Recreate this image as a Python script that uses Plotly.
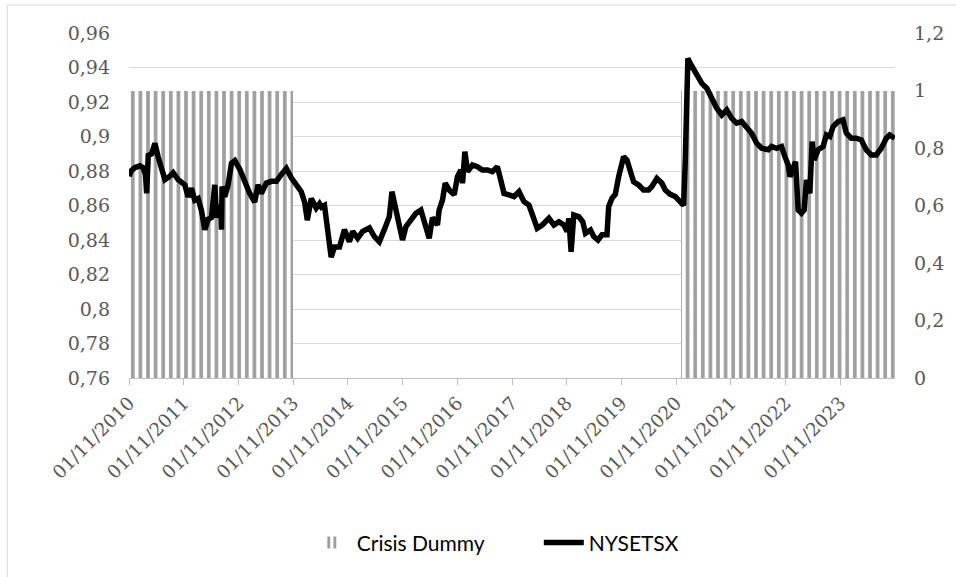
import pandas as pd
import plotly.graph_objects as go

# ---------------- data ----------------
# NYSETSX series: time as decimal year, value (left axis)
t_year = [
    2010.833, 2010.870, 2010.943, 2011.034, 2011.089, 2011.134, 2011.156, 2011.185, 2011.247, 2011.307,
    2011.367, 2011.429, 2011.490, 2011.581, 2011.641, 2011.732, 2011.854, 2011.914, 2011.976, 2012.036,
    2012.097, 2012.158, 2012.219, 2012.279, 2012.341, 2012.401, 2012.432, 2012.461, 2012.510, 2012.523,
    2012.534, 2012.583, 2012.644, 2012.705, 2012.766, 2012.857, 2012.948, 2013.039, 2013.130, 2013.190,
    2013.252, 2013.343, 2013.435, 2013.526, 2013.617, 2013.708, 2013.799, 2013.890, 2013.981, 2014.042,
    2014.091, 2014.164, 2014.255, 2014.315, 2014.352, 2014.406, 2014.467, 2014.528, 2014.589, 2014.680,
    2014.771, 2014.862, 2014.922, 2015.013, 2015.104, 2015.227, 2015.318, 2015.409, 2015.500, 2015.591,
    2015.640, 2015.713, 2015.773, 2015.833, 2015.895, 2015.987, 2016.078, 2016.169, 2016.229, 2016.320,
    2016.380, 2016.471, 2016.502, 2016.563, 2016.612, 2016.685, 2016.776, 2016.836, 2016.898, 2016.928,
    2016.971, 2017.019, 2017.110, 2017.201, 2017.292, 2017.383, 2017.474, 2017.565, 2017.627, 2017.687,
    2017.778, 2017.870, 2017.961, 2018.052, 2018.143, 2018.203, 2018.294, 2018.386, 2018.508, 2018.599,
    2018.690, 2018.781, 2018.841, 2018.872, 2018.914, 2018.963, 2019.054, 2019.127, 2019.177, 2019.268,
    2019.328, 2019.406, 2019.479, 2019.570, 2019.601, 2019.662, 2019.723, 2019.784, 2019.875, 2019.935,
    2019.997, 2020.057, 2020.148, 2020.239, 2020.330, 2020.391, 2020.482, 2020.573, 2020.635, 2020.726,
    2020.817, 2020.908, 2020.969, 2021.000, 2021.047, 2021.091, 2021.211, 2021.302, 2021.393, 2021.485,
    2021.576, 2021.667, 2021.758, 2021.849, 2021.940, 2022.031, 2022.122, 2022.213, 2022.305, 2022.396,
    2022.518, 2022.578, 2022.669, 2022.760, 2022.822, 2022.882, 2022.913, 2022.974, 2023.016, 2023.065,
    2023.125, 2023.174, 2023.216, 2023.278, 2023.320, 2023.357, 2023.430, 2023.521, 2023.581, 2023.643,
    2023.703, 2023.794, 2023.885, 2023.945, 2024.036, 2024.128, 2024.219, 2024.310, 2024.401, 2024.492,
    2024.583, 2024.674, 2024.736, 2024.828,
]
nysetsx = [
    0.877, 0.880, 0.882, 0.883, 0.882, 0.878, 0.867, 0.889, 0.890, 0.896,
    0.888, 0.881, 0.875, 0.877, 0.879, 0.875, 0.872, 0.865, 0.870, 0.863,
    0.864, 0.857, 0.846, 0.852, 0.853, 0.872, 0.853, 0.857, 0.860, 0.846,
    0.871, 0.865, 0.872, 0.8845, 0.886, 0.881, 0.873, 0.867, 0.862, 0.872,
    0.867, 0.873, 0.874, 0.874, 0.878, 0.8815, 0.876, 0.872, 0.868, 0.862,
    0.8515, 0.864, 0.8585, 0.861, 0.859, 0.860, 0.847, 0.830, 0.836, 0.836,
    0.846, 0.839, 0.845, 0.841, 0.845, 0.847, 0.842, 0.839, 0.846, 0.8535,
    0.868, 0.857, 0.846, 0.840, 0.8477, 0.8516, 0.8555, 0.8574, 0.8516, 0.841,
    0.853, 0.8488, 0.8574, 0.8632, 0.8729, 0.869, 0.8662, 0.8767, 0.8806, 0.8729,
    0.8912, 0.8796, 0.8835, 0.8825, 0.8806, 0.8806, 0.8796, 0.8825, 0.8748, 0.867,
    0.8662, 0.8652, 0.868, 0.8622, 0.8603, 0.8545, 0.8468, 0.8487, 0.8526, 0.8487,
    0.8506, 0.8487, 0.845, 0.8526, 0.8332, 0.8545, 0.8535, 0.8506, 0.8439, 0.8458,
    0.842, 0.840, 0.843, 0.843, 0.8593, 0.8642, 0.8665, 0.8767, 0.8883, 0.8864,
    0.8806, 0.8738, 0.8719, 0.869, 0.869, 0.871, 0.8757, 0.8729, 0.869, 0.8665,
    0.8652, 0.8622, 0.860, 0.8864, 0.9453, 0.9424, 0.9357, 0.9308, 0.928, 0.922,
    0.9164, 0.9125, 0.9154, 0.9105, 0.9077, 0.9087, 0.9057, 0.9019, 0.8961, 0.8932,
    0.8923, 0.8942, 0.8932, 0.8942, 0.8883, 0.8835, 0.8767, 0.8825, 0.8854, 0.8574,
    0.8555, 0.8574, 0.8748, 0.867, 0.897, 0.8864, 0.8923, 0.8942, 0.9009, 0.900,
    0.9057, 0.9086, 0.9096, 0.902, 0.899, 0.899, 0.898, 0.8922, 0.8893, 0.8893,
    0.8932, 0.899, 0.9009, 0.899,
]

# Crisis dummy: monthly, Nov 2010 .. Oct 2024 (right axis)
dummy_start = "2010-11-01"
crisis_dummy = [1] * 36 + [0] * 85 + [1] * 47

# Axis ticks
x_tick_dates = [f"{y}-11-01" for y in range(2010, 2024)]
x_tick_text = [f"01/11/{y}" for y in range(2010, 2024)]
left_ticks = [0.76, 0.78, 0.80, 0.82, 0.84, 0.86, 0.88, 0.90, 0.92, 0.94, 0.96]
left_text = ["0,76", "0,78", "0,8", "0,82", "0,84", "0,86", "0,88", "0,9", "0,92", "0,94", "0,96"]
right_ticks = [0, 0.2, 0.4, 0.6, 0.8, 1.0, 1.2]
right_text = ["0", "0,2", "0,4", "0,6", "0,8", "1", "1,2"]


# ---------------- helpers ----------------
def dec_to_ts(t):
    y = int(t)
    start = pd.Timestamp(year=y, month=1, day=1)
    end = pd.Timestamp(year=y + 1, month=1, day=1)
    return start + (end - start) * (t - y)


line_x = [dec_to_ts(t) for t in t_year]
months = pd.date_range(dummy_start, periods=len(crisis_dummy), freq="MS")
month_ms = [(m + pd.offsets.MonthBegin(1) - m).total_seconds() * 1000 for m in months]

TICK_FONT = dict(family="DejaVu Serif", size=19, color="#595959")

fig = go.Figure()

fig.add_trace(go.Bar(
    x=months, y=crisis_dummy, width=month_ms, offset=0,
    name="Crisis Dummy", yaxis="y",
    marker=dict(color="white", line=dict(width=0),
                pattern=dict(shape="|", fgcolor="#9e9e9e", bgcolor="white",
                             size=7.6, solidity=0.48, fillmode="replace")),
    hoverinfo="skip",
))

fig.add_trace(go.Scatter(
    x=line_x, y=nysetsx, mode="lines", name="NYSETSX", yaxis="y2",
    line=dict(color="black", width=5.5, shape="linear"),
))

fig.update_layout(
    width=956, height=577,
    margin=dict(l=129, r=59, t=33, b=199),
    paper_bgcolor="white", plot_bgcolor="white",
    bargap=0,
    showlegend=True,
    legend=dict(orientation="h", x=0.535, xanchor="center", y=-0.478, yanchor="middle",
                font=dict(family="Lato", size=21, color="#000000"),
                itemwidth=40, entrywidth=177, traceorder="normal", bgcolor="rgba(0,0,0,0)"),
    xaxis=dict(
        type="date", range=["2010-11-01", "2024-11-01"],
        tickmode="array", tickvals=x_tick_dates, ticktext=x_tick_text,
        tickangle=-45, tickfont=dict(family="DejaVu Serif", size=18.5, color="#595959"),
        ticks="outside", ticklen=6, tickcolor="#bfbfbf", tickwidth=1,
        showline=True, linecolor="#bfbfbf", linewidth=1,
        showgrid=False, zeroline=False,
    ),
    yaxis=dict(
        side="right", range=[0, 1.2],
        tickmode="array", tickvals=right_ticks, ticktext=right_text,
        tickfont=TICK_FONT, showgrid=False, zeroline=False, showline=False,
        ticks="", ticklabelstandoff=18,
    ),
    yaxis2=dict(
        overlaying="y", side="left", range=[0.76, 0.96],
        tickmode="array", tickvals=left_ticks, ticktext=left_text,
        tickfont=TICK_FONT, showgrid=True, gridcolor="#d9d9d9", gridwidth=1,
        zeroline=False, showline=False, ticks="", ticklabelstandoff=18,
    ),
    shapes=[dict(type="rect", xref="paper", yref="paper",
                 x0=-0.1589, x1=1.082, y0=-0.591, y1=1.0812,
                 line=dict(color="#d9d9d9", width=1), fillcolor="rgba(0,0,0,0)",
                 layer="below")],
)

fig.write_html("out.html")
